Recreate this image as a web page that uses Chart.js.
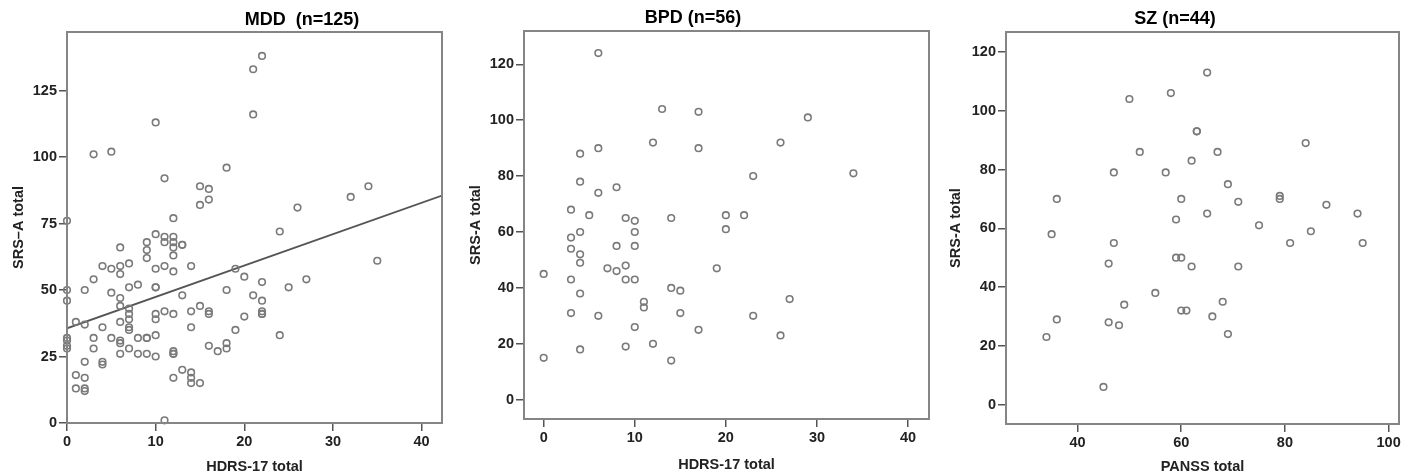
<!DOCTYPE html>
<html>
<head>
<meta charset="utf-8">
<script src="https://cdn.jsdelivr.net/npm/chart.js@4.4.1/dist/chart.umd.min.js"></script>
<style>
  body { margin: 0; background: #fff; width: 1413px; height: 476px; overflow: hidden; position: relative; }
  canvas { position: absolute; top: 0; }
</style>
</head>
<body>
<canvas id="mdd" width="460" height="476" style="left:0px"></canvas>
<canvas id="bpd" width="480" height="476" style="left:460px"></canvas>
<canvas id="sz" width="473" height="476" style="left:940px"></canvas>
<script>
// MDD (n=125) - HDRS-17 vs SRS-A
const mddX = [0,0,0,0,0,0,0, 1,1,1, 2,2,2,2,2,2, 3,3,3,3, 4,4,4,4, 5,5,5,5,
  6,6,6,6,6,6,6,6,6, 7,7,7,7,7,7,7,7, 8,8,8, 9,9,9,9,9,9,
  10,10,10,10,10,10,10,10,10, 11,11,11,11,11,11,
  12,12,12,12,12,12,12,12,12,12,12, 13,13,13,13, 14,14,14,14,14,14,
  15,15,15,15, 16,16,16,16,16, 17, 18,18,18,18, 19,19, 20,20,
  21,21,21, 22,22,22,22,22,22, 24,24, 25, 26, 27, 32, 34, 35];
const mddY = [76,50,46,32,31,29,28, 38,18,13, 50,37,23,17,13,12, 101,54,32,28, 59,36,23,22, 102,58,49,32,
  66,59,56,47,44,38,31,30,26, 60,51,43,41,39,36,35,28, 52,32,26, 68,65,62,32,32,26,
  113,71,58,51,51,41,39,33,25, 92,70,68,59,42,1,
  77,70,68,66,63,57,41,27,26,26,17, 67,67,48,20, 59,42,36,19,17,15,
  89,82,44,15, 88,84,42,41,29, 27, 96,50,30,28, 58,35, 55,40,
  133,116,48, 138,53,46,42,41,41, 72,33, 51, 81, 54, 85, 89, 61];
const mddFit = { intercept: 35.6, slope: 1.18 };

// BPD (n=56)
const bpdX = [6,13,17,29,12,17,26,6,4,4,23,34,6,8,3,5,9,10,14,20,22,20,4,10,3,3,4,8,10,4,
  7,8,9,19,0,3,9,10,4,14,15,11,11,3,6,15,27,23,10,17,26,12,4,9,14,0];
const bpdY = [124,104,103,101,92,90,92,90,88,78,80,81,74,76,68,66,65,64,65,66,66,61,60,60,58,54,52,55,55,49,
  47,46,48,47,45,43,43,43,38,40,39,35,33,31,30,31,36,30,26,25,23,20,18,19,14,15];

// SZ (n=44) - PANSS vs SRS-A
const szX = [65,58,50,63,63,84,52,67,62,47,57,69,36,60,71,79,79,88,65,94,59,75,85,35,47,81,95,46,
  59,60,62,71,55,68,49,60,61,66,36,46,48,69,34,45];
const szY = [113,106,104,93,93,89,86,86,83,79,79,75,70,70,69,71,70,68,65,65,63,61,59,58,55,55,55,48,
  50,50,47,47,38,35,34,32,32,30,29,28,27,24,23,6];

const mddXTicks = [0,10,20,30,40];
const mddYTicks = [0,25,50,75,100,125];
const bpdXTicks = [0,10,20,30,40];
const bpdYTicks = [0,20,40,60,80,100,120];
const szXTicks = [40,60,80,100];
const szYTicks = [0,20,40,60,80,100,120];

const FONT = '"Liberation Sans", Arial, sans-serif';

// box round the plot + the panel title
const framePlugin = {
  id: 'frame',
  afterDraw(chart, args, opts) {
    const { ctx, chartArea: a } = chart;
    ctx.save();
    ctx.strokeStyle = '#858585';
    ctx.lineWidth = 2;
    ctx.strokeRect(a.left, a.top, a.right - a.left, a.bottom - a.top);
    ctx.fillStyle = '#000';
    ctx.font = 'bold 18px ' + FONT;
    ctx.textAlign = 'center';
    ctx.textBaseline = 'middle';
    ctx.fillText(opts.text, opts.x, opts.y);
    ctx.restore();
  }
};

function toPoints(xs, ys) {
  return xs.map((x, i) => ({ x: x, y: ys[i] }));
}

function axis(min, max, ticks, size, horiz, title, titlePad) {
  return {
    type: 'linear',
    min: min,
    max: max,
    afterBuildTicks: s => { s.ticks = ticks.map(v => ({ value: v })); },
    afterFit: s => { if (horiz) s.height = size; else s.width = size; },
    grid: { drawOnChartArea: false, drawTicks: true, tickLength: 8, color: '#555', lineWidth: 1.5 },
    border: { display: true, color: '#858585', width: 2 },
    ticks: { font: { family: FONT, size: 14.5, weight: 'bold' }, color: '#222', padding: 2, maxRotation: 0, autoSkip: false },
    title: {
      display: true, text: title, color: '#222',
      font: { family: FONT, size: 14.5, weight: 'bold' },
      padding: horiz ? { top: 0, bottom: titlePad } : { top: titlePad, bottom: 0 }
    }
  };
}

function makePanel(p) {
  const datasets = [{
    data: toPoints(p.xs, p.ys),
    pointStyle: 'circle',
    pointRadius: 3.3,
    borderWidth: 1.6,
    borderColor: '#7a7a7a',
    backgroundColor: 'rgba(0,0,0,0)',
    clip: false
  }];
  if (p.fit) {
    datasets.push({
      type: 'line',
      data: [{ x: p.xMin, y: p.fit.intercept + p.fit.slope * p.xMin },
             { x: p.xMax, y: p.fit.intercept + p.fit.slope * p.xMax }],
      borderColor: '#555',
      borderWidth: 1.8,
      pointRadius: 0,
      fill: false
    });
  }
  return new Chart(document.getElementById(p.id), {
    type: 'scatter',
    data: { datasets: datasets },
    options: {
      responsive: false,
      animation: false,
      events: [],
      layout: { padding: p.pad },
      scales: {
        x: axis(p.xMin, p.xMax, p.xTicks, p.xH, true, p.xTitle, p.xTitlePad),
        y: axis(p.yMin, p.yMax, p.yTicks, p.yW, false, p.yTitle, p.yTitlePad)
      },
      plugins: {
        legend: { display: false },
        tooltip: { enabled: false },
        frame: p.title
      }
    },
    plugins: [framePlugin]
  });
}

makePanel({
  id: 'mdd', xs: mddX, ys: mddY, fit: mddFit,
  xMin: 0, xMax: 42.3, yMin: 0, yMax: 147,
  xTicks: mddXTicks, yTicks: mddYTicks,
  xH: 53, yW: 67, pad: { top: 32, right: 18, left: 0, bottom: 0 },
  xTitle: 'HDRS-17 total', yTitle: 'SRS–A total', xTitlePad: 0, yTitlePad: 10,
  title: { text: 'MDD  (n=125)', x: 302, y: 20 }
});

makePanel({
  id: 'bpd', xs: bpdX, ys: bpdY,
  xMin: -2.16, xMax: 42.3, yMin: -6.9, yMax: 131.9,
  xTicks: bpdXTicks, yTicks: bpdYTicks,
  xH: 57, yW: 64, pad: { top: 31, right: 11, left: 0, bottom: 0 },
  xTitle: 'HDRS-17 total', yTitle: 'SRS-A total', xTitlePad: 2, yTitlePad: 7,
  title: { text: 'BPD (n=56)', x: 233, y: 18 }
});

makePanel({
  id: 'sz', xs: szX, ys: szY,
  xMin: 26.2, xMax: 102, yMin: -6.6, yMax: 126.8,
  xTicks: szXTicks, yTicks: szYTicks,
  xH: 52, yW: 66, pad: { top: 32, right: 14, left: 0, bottom: 0 },
  xTitle: 'PANSS total', yTitle: 'SRS-A total', xTitlePad: 0, yTitlePad: 7,
  title: { text: 'SZ (n=44)', x: 235, y: 19 }
});
</script>
</body>
</html>
